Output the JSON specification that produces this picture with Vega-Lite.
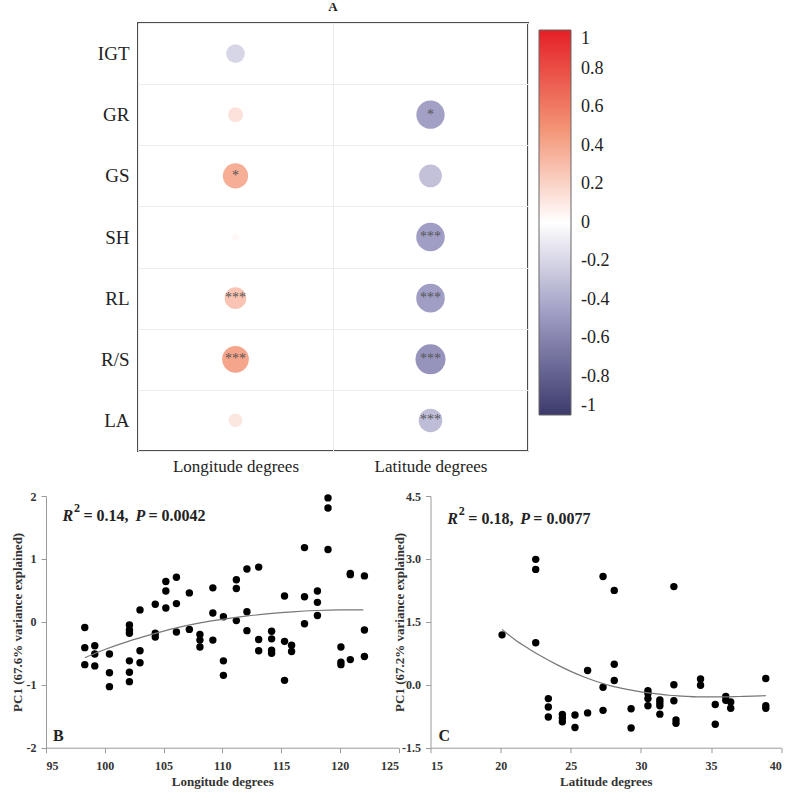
{
  "$schema": "https://vega.github.io/schema/vega-lite/v6.json",
  "padding": {"left": 11, "top": 0, "right": 5, "bottom": 5},
  "background": "white",
  "config": {
    "font": "Liberation Serif",
    "view": {"stroke": null},
    "axisQuantitative": {"labelFont": "Liberation Serif", "titleFont": "Liberation Serif", "labelFontWeight": "bold", "labelFontSize": 12, "labelColor": "#333", "titleFontWeight": "bold", "titleFontSize": 13, "titleColor": "#333", "domainColor": "#9a9a9a", "tickColor": "#9a9a9a", "tickSize": 5, "labelPadding": 5, "grid": false},
    "axisBand": {"labelFont": "Liberation Serif", "labelColor": "#222", "labelFontWeight": "normal"},
    "text": {"font": "Liberation Serif", "fontWeight": "bold", "fontSize": 16, "color": "#222", "align": "left", "baseline": "middle"}
  },
  "datasets": {
    "corr": [
      {"trait": "IGT", "var": "Longitude degrees", "r": -0.2, "sig": ""},
      {"trait": "IGT", "var": "Latitude degrees", "r": -0.01, "sig": ""},
      {"trait": "GR", "var": "Longitude degrees", "r": 0.13, "sig": ""},
      {"trait": "GR", "var": "Latitude degrees", "r": -0.46, "sig": "*"},
      {"trait": "GS", "var": "Longitude degrees", "r": 0.37, "sig": "*"},
      {"trait": "GS", "var": "Latitude degrees", "r": -0.3, "sig": ""},
      {"trait": "SH", "var": "Longitude degrees", "r": 0.03, "sig": ""},
      {"trait": "SH", "var": "Latitude degrees", "r": -0.47, "sig": "***"},
      {"trait": "RL", "var": "Longitude degrees", "r": 0.27, "sig": "***"},
      {"trait": "RL", "var": "Latitude degrees", "r": -0.47, "sig": "***"},
      {"trait": "R/S", "var": "Longitude degrees", "r": 0.41, "sig": "***"},
      {"trait": "R/S", "var": "Latitude degrees", "r": -0.52, "sig": "***"},
      {"trait": "LA", "var": "Longitude degrees", "r": 0.11, "sig": ""},
      {"trait": "LA", "var": "Latitude degrees", "r": -0.32, "sig": "***"}
    ],
    "lonPts": [
      {"lon": 98.3, "pc1": -0.09}, {"lon": 98.3, "pc1": -0.41}, {"lon": 98.3, "pc1": -0.68},
      {"lon": 99.15, "pc1": -0.38}, {"lon": 99.15, "pc1": -0.51}, {"lon": 99.15, "pc1": -0.70},
      {"lon": 100.4, "pc1": -0.51}, {"lon": 100.4, "pc1": -0.81}, {"lon": 100.4, "pc1": -1.03},
      {"lon": 102.1, "pc1": -0.05}, {"lon": 102.1, "pc1": -0.13}, {"lon": 102.1, "pc1": -0.18}, {"lon": 102.1, "pc1": -0.62}, {"lon": 102.1, "pc1": -0.80}, {"lon": 102.1, "pc1": -0.95},
      {"lon": 103.0, "pc1": 0.19}, {"lon": 103.0, "pc1": -0.46}, {"lon": 103.0, "pc1": -0.65},
      {"lon": 104.3, "pc1": 0.28}, {"lon": 104.3, "pc1": -0.18}, {"lon": 104.3, "pc1": -0.24},
      {"lon": 105.2, "pc1": 0.64}, {"lon": 105.2, "pc1": 0.49}, {"lon": 105.2, "pc1": 0.22},
      {"lon": 106.1, "pc1": 0.71}, {"lon": 106.1, "pc1": 0.29}, {"lon": 106.1, "pc1": -0.16},
      {"lon": 107.2, "pc1": 0.46}, {"lon": 107.2, "pc1": -0.12},
      {"lon": 108.1, "pc1": -0.20}, {"lon": 108.1, "pc1": -0.29}, {"lon": 108.1, "pc1": -0.40},
      {"lon": 109.2, "pc1": 0.54}, {"lon": 109.2, "pc1": 0.14}, {"lon": 109.2, "pc1": -0.29},
      {"lon": 110.1, "pc1": 0.08}, {"lon": 110.1, "pc1": -0.62}, {"lon": 110.1, "pc1": -0.85},
      {"lon": 111.2, "pc1": 0.67}, {"lon": 111.2, "pc1": 0.53}, {"lon": 111.2, "pc1": 0.02},
      {"lon": 112.1, "pc1": 0.84}, {"lon": 112.1, "pc1": 0.16}, {"lon": 112.1, "pc1": -0.14},
      {"lon": 113.1, "pc1": 0.87}, {"lon": 113.1, "pc1": -0.28}, {"lon": 113.1, "pc1": -0.46},
      {"lon": 114.2, "pc1": -0.15}, {"lon": 114.2, "pc1": -0.27}, {"lon": 114.2, "pc1": -0.45}, {"lon": 114.2, "pc1": -0.50},
      {"lon": 115.3, "pc1": 0.41}, {"lon": 115.3, "pc1": -0.31}, {"lon": 115.3, "pc1": -0.93},
      {"lon": 115.9, "pc1": -0.37}, {"lon": 115.9, "pc1": -0.47},
      {"lon": 117.0, "pc1": 1.18}, {"lon": 117.0, "pc1": 0.40}, {"lon": 117.0, "pc1": -0.03},
      {"lon": 118.1, "pc1": 0.49}, {"lon": 118.1, "pc1": 0.31}, {"lon": 118.1, "pc1": 0.10},
      {"lon": 119.0, "pc1": 1.97}, {"lon": 119.0, "pc1": 1.81}, {"lon": 119.0, "pc1": 1.15},
      {"lon": 120.1, "pc1": -0.40}, {"lon": 120.1, "pc1": -0.64}, {"lon": 120.1, "pc1": -0.68},
      {"lon": 120.9, "pc1": 0.77}, {"lon": 120.9, "pc1": 0.75}, {"lon": 120.9, "pc1": -0.60},
      {"lon": 122.1, "pc1": 0.73}, {"lon": 122.1, "pc1": -0.13}, {"lon": 122.1, "pc1": -0.55}
    ],
    "lonFit": [
      {"lon": 98.3, "pc1": -0.57}, {"lon": 100, "pc1": -0.44}, {"lon": 102, "pc1": -0.31}, {"lon": 104, "pc1": -0.20},
      {"lon": 106, "pc1": -0.10}, {"lon": 108, "pc1": -0.02}, {"lon": 110, "pc1": 0.04}, {"lon": 112, "pc1": 0.09},
      {"lon": 114, "pc1": 0.13}, {"lon": 116, "pc1": 0.16}, {"lon": 118, "pc1": 0.18}, {"lon": 120, "pc1": 0.19}, {"lon": 122, "pc1": 0.19}
    ],
    "latPts": [
      {"lat": 20.1, "pc1": 1.19},
      {"lat": 22.5, "pc1": 2.99}, {"lat": 22.5, "pc1": 2.75}, {"lat": 22.5, "pc1": 1.00},
      {"lat": 23.4, "pc1": -0.33}, {"lat": 23.4, "pc1": -0.53}, {"lat": 23.4, "pc1": -0.77},
      {"lat": 24.4, "pc1": -0.71}, {"lat": 24.4, "pc1": -0.79}, {"lat": 24.4, "pc1": -0.88},
      {"lat": 25.3, "pc1": -0.72}, {"lat": 25.3, "pc1": -1.02},
      {"lat": 26.2, "pc1": 0.34}, {"lat": 26.2, "pc1": -0.67},
      {"lat": 27.3, "pc1": 2.58}, {"lat": 27.3, "pc1": -0.06}, {"lat": 27.3, "pc1": -0.61},
      {"lat": 28.1, "pc1": 2.25}, {"lat": 28.1, "pc1": 0.49}, {"lat": 28.1, "pc1": 0.10},
      {"lat": 29.3, "pc1": -0.57}, {"lat": 29.3, "pc1": -1.03},
      {"lat": 30.5, "pc1": -0.14}, {"lat": 30.5, "pc1": -0.21}, {"lat": 30.5, "pc1": -0.33}, {"lat": 30.5, "pc1": -0.50},
      {"lat": 31.35, "pc1": -0.36}, {"lat": 31.35, "pc1": -0.43}, {"lat": 31.35, "pc1": -0.50}, {"lat": 31.35, "pc1": -0.70},
      {"lat": 32.35, "pc1": 2.34}, {"lat": 32.35, "pc1": 0.0}, {"lat": 32.35, "pc1": -0.38},
      {"lat": 32.5, "pc1": -0.84}, {"lat": 32.5, "pc1": -0.92},
      {"lat": 34.25, "pc1": 0.14}, {"lat": 34.25, "pc1": -0.01},
      {"lat": 35.3, "pc1": -0.47}, {"lat": 35.3, "pc1": -0.94},
      {"lat": 36.05, "pc1": -0.28}, {"lat": 36.05, "pc1": -0.37},
      {"lat": 36.4, "pc1": -0.41}, {"lat": 36.4, "pc1": -0.56},
      {"lat": 38.9, "pc1": 0.15}, {"lat": 38.9, "pc1": -0.50}, {"lat": 38.9, "pc1": -0.56}
    ],
    "latFit": [
      {"lat": 20.1, "pc1": 1.32}, {"lat": 21, "pc1": 1.08}, {"lat": 22, "pc1": 0.86}, {"lat": 23, "pc1": 0.66},
      {"lat": 24, "pc1": 0.48}, {"lat": 25, "pc1": 0.32}, {"lat": 26, "pc1": 0.18}, {"lat": 27, "pc1": 0.06},
      {"lat": 28, "pc1": -0.04}, {"lat": 29, "pc1": -0.11}, {"lat": 30, "pc1": -0.17}, {"lat": 31, "pc1": -0.21},
      {"lat": 32, "pc1": -0.25}, {"lat": 33, "pc1": -0.27}, {"lat": 34, "pc1": -0.29}, {"lat": 35, "pc1": -0.29},
      {"lat": 36, "pc1": -0.29}, {"lat": 37, "pc1": -0.28}, {"lat": 38, "pc1": -0.27}, {"lat": 38.9, "pc1": -0.26}
    ]
  },
  "bounds": "full",
  "spacing": 15,
  "vconcat": [
    {
      "bounds": "flush",
      "spacing": 0,
      "hconcat": [
        {
          "width": 92,
          "height": 428,
          "data": {"values": [{"blank": 0}]},
          "mark": {"type": "point", "opacity": 0},
          "encoding": {}
        },
        {
          "width": 390,
          "height": 428,
          "view": {"stroke": "#4d4d4d", "strokeWidth": 2},
          "title": {"text": "A", "fontSize": 13, "fontWeight": "bold", "font": "Liberation Serif", "offset": 0, "color": "#222"},
          "data": {"name": "corr"},
          "transform": [{"calculate": "abs(datum.r)", "as": "absr"}],
          "encoding": {
            "x": {"field": "var", "type": "nominal", "sort": ["Longitude degrees", "Latitude degrees"],
                  "scale": {"paddingInner": 0, "paddingOuter": 0},
                  "axis": {"title": null, "orient": "bottom", "labelAngle": 0, "labelFontSize": 17, "labelPadding": 7, "ticks": false, "domain": false, "grid": true, "gridColor": "#ececec", "tickBand": "extent"}},
            "y": {"field": "trait", "type": "nominal", "sort": ["IGT", "GR", "GS", "SH", "RL", "R/S", "LA"],
                  "scale": {"paddingInner": 0, "paddingOuter": 0},
                  "axis": {"title": null, "labelFontSize": 19, "labelPadding": 9, "ticks": false, "domain": false, "grid": true, "gridColor": "#ececec", "tickBand": "extent"}}
          },
          "layer": [
            {
              "mark": {"type": "circle", "opacity": 1},
              "encoding": {
                "size": {"field": "absr", "type": "quantitative", "scale": {"domain": [0, 1], "range": [0, 1735]}, "legend": null},
                "color": {"field": "r", "type": "quantitative",
                  "scale": {"domain": [-1, -0.5, 0, 0.5, 1], "range": ["#3b3a6b", "#9a98c0", "#ffffff", "#f39172", "#e41f26"], "interpolate": "rgb"},
                  "legend": {"orient": "none", "legendX": 493, "legendY": 7, "direction": "vertical", "gradientLength": 385, "gradientThickness": 32, "title": null,
                    "values": [-1, -0.8, -0.6, -0.4, -0.2, 0, 0.2, 0.4, 0.6, 0.8, 1],
                    "labelFont": "Liberation Serif", "labelFontSize": 18, "labelColor": "#222", "labelOffset": 10, "labelOverlap": false,
                    "gradientStrokeColor": "#666", "gradientStrokeWidth": 1, "labelExpr": "'' + datum.value", "labelBaseline": "middle"}}
              }
            },
            {
              "mark": {"type": "text", "fontSize": 14, "fontWeight": "normal", "color": "#555", "align": "center", "baseline": "middle"},
              "encoding": {"text": {"field": "sig", "type": "nominal"}}
            }
          ]
        }
      ]
    },
    {
      "bounds": "flush",
      "spacing": 31.5,
      "hconcat": [
        {
          "width": 352.5,
          "height": 251.7,
          "layer": [
            {
              "data": {"name": "lonPts"},
              "mark": {"type": "circle", "size": 55, "color": "#000", "opacity": 1},
              "encoding": {
                "x": {"field": "lon", "type": "quantitative", "scale": {"domain": [95, 125], "nice": false, "zero": false},
                      "axis": {"title": "Longitude degrees", "values": [95, 100, 105, 110, 115, 120, 125], "labelPadding": 8, "titlePadding": 4}},
                "y": {"field": "pc1", "type": "quantitative", "scale": {"domain": [-2, 2], "nice": false},
                      "axis": {"title": "PC1 (67.6% variance explained)", "values": [-2, -1, 0, 1, 2], "labelExpr": "'' + datum.value", "titlePadding": 2}}
              }
            },
            {
              "data": {"name": "lonFit"},
              "mark": {"type": "line", "color": "#777", "strokeWidth": 1.2, "interpolate": "monotone"},
              "encoding": {"x": {"field": "lon", "type": "quantitative"}, "y": {"field": "pc1", "type": "quantitative"}}
            },
            {
              "data": {"values": [{"lon": 96.4, "pc1": 1.69, "part": "R"}]},
              "mark": {"type": "text", "fontStyle": "italic"},
              "encoding": {"x": {"field": "lon", "type": "quantitative"}, "y": {"field": "pc1", "type": "quantitative"}, "text": {"field": "part"}}
            },
            {
              "data": {"values": [{"lon": 96.4, "pc1": 1.69, "part": "2"}]},
              "mark": {"type": "text", "fontSize": 12, "dx": 11.5, "dy": -8},
              "encoding": {"x": {"field": "lon", "type": "quantitative"}, "y": {"field": "pc1", "type": "quantitative"}, "text": {"field": "part"}}
            },
            {
              "data": {"values": [{"lon": 96.4, "pc1": 1.69, "part": "= 0.14,"}]},
              "mark": {"type": "text", "dx": 21},
              "encoding": {"x": {"field": "lon", "type": "quantitative"}, "y": {"field": "pc1", "type": "quantitative"}, "text": {"field": "part"}}
            },
            {
              "data": {"values": [{"lon": 96.4, "pc1": 1.69, "part": "P"}]},
              "mark": {"type": "text", "fontStyle": "italic", "dx": 73},
              "encoding": {"x": {"field": "lon", "type": "quantitative"}, "y": {"field": "pc1", "type": "quantitative"}, "text": {"field": "part"}}
            },
            {
              "data": {"values": [{"lon": 96.4, "pc1": 1.69, "part": "= 0.0042"}]},
              "mark": {"type": "text", "dx": 86},
              "encoding": {"x": {"field": "lon", "type": "quantitative"}, "y": {"field": "pc1", "type": "quantitative"}, "text": {"field": "part"}}
            },
            {
              "data": {"values": [{"lon": 95.6, "pc1": -1.82, "label": "B"}]},
              "mark": {"type": "text"},
              "encoding": {"x": {"field": "lon", "type": "quantitative"}, "y": {"field": "pc1", "type": "quantitative"}, "text": {"field": "label"}}
            }
          ]
        },
        {
          "width": 350.7,
          "height": 251.7,
          "layer": [
            {
              "data": {"name": "latPts"},
              "mark": {"type": "circle", "size": 55, "color": "#000", "opacity": 1},
              "encoding": {
                "x": {"field": "lat", "type": "quantitative", "scale": {"domain": [15, 40], "nice": false, "zero": false},
                      "axis": {"title": "Latitude degrees", "values": [15, 20, 25, 30, 35, 40], "labelPadding": 8, "titlePadding": 4}},
                "y": {"field": "pc1", "type": "quantitative", "scale": {"domain": [-1.5, 4.5], "nice": false},
                      "axis": {"title": "PC1 (67.2% variance explained)", "values": [-1.5, 0, 1.5, 3, 4.5], "labelExpr": "datum.value == 0 ? '0.0' : datum.value == 3 ? '3.0' : '' + datum.value", "titlePadding": -5}}
              }
            },
            {
              "data": {"name": "latFit"},
              "mark": {"type": "line", "color": "#777", "strokeWidth": 1.2, "interpolate": "monotone"},
              "encoding": {"x": {"field": "lat", "type": "quantitative"}, "y": {"field": "pc1", "type": "quantitative"}}
            },
            {
              "data": {"values": [{"lat": 16.2, "pc1": 3.96, "part": "R"}]},
              "mark": {"type": "text", "fontStyle": "italic"},
              "encoding": {"x": {"field": "lat", "type": "quantitative"}, "y": {"field": "pc1", "type": "quantitative"}, "text": {"field": "part"}}
            },
            {
              "data": {"values": [{"lat": 16.2, "pc1": 3.96, "part": "2"}]},
              "mark": {"type": "text", "fontSize": 12, "dx": 11.5, "dy": -8},
              "encoding": {"x": {"field": "lat", "type": "quantitative"}, "y": {"field": "pc1", "type": "quantitative"}, "text": {"field": "part"}}
            },
            {
              "data": {"values": [{"lat": 16.2, "pc1": 3.96, "part": "= 0.18,"}]},
              "mark": {"type": "text", "dx": 21},
              "encoding": {"x": {"field": "lat", "type": "quantitative"}, "y": {"field": "pc1", "type": "quantitative"}, "text": {"field": "part"}}
            },
            {
              "data": {"values": [{"lat": 16.2, "pc1": 3.96, "part": "P"}]},
              "mark": {"type": "text", "fontStyle": "italic", "dx": 73},
              "encoding": {"x": {"field": "lat", "type": "quantitative"}, "y": {"field": "pc1", "type": "quantitative"}, "text": {"field": "part"}}
            },
            {
              "data": {"values": [{"lat": 16.2, "pc1": 3.96, "part": "= 0.0077"}]},
              "mark": {"type": "text", "dx": 86},
              "encoding": {"x": {"field": "lat", "type": "quantitative"}, "y": {"field": "pc1", "type": "quantitative"}, "text": {"field": "part"}}
            },
            {
              "data": {"values": [{"lat": 15.57, "pc1": -1.21, "label": "C"}]},
              "mark": {"type": "text"},
              "encoding": {"x": {"field": "lat", "type": "quantitative"}, "y": {"field": "pc1", "type": "quantitative"}, "text": {"field": "label"}}
            }
          ]
        }
      ]
    }
  ]
}
